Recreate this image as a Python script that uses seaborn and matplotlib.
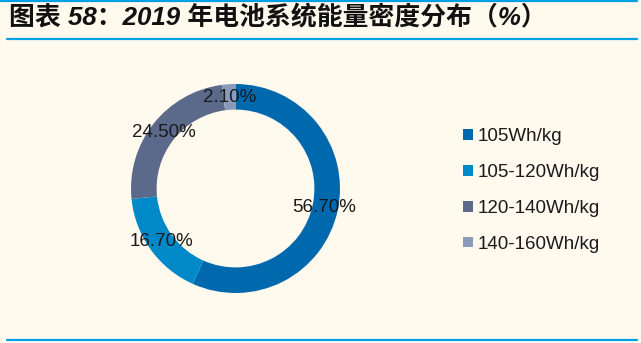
import matplotlib
matplotlib.use("Agg")
import matplotlib.pyplot as plt
from matplotlib.patches import Patch
from matplotlib.lines import Line2D
import seaborn as sns

categories = ["105Wh/kg", "105-120Wh/kg", "120-140Wh/kg", "140-160Wh/kg"]
values = [56.7, 16.7, 24.5, 2.1]
value_labels = ["56.70%", "16.70%", "24.50%", "2.10%"]
title = "图表 58：2019 年电池系统能量密度分布（%）"

BG = "#FFF9EE"
colors = sns.color_palette(["#0068AD", "#0089C8", "#5B6A8A", "#8A9AB8"])

sns.set_theme(style="white")
plt.rcParams["font.family"] = ["Liberation Sans", "DejaVu Sans"]

W, H = 641, 343
fig = plt.figure(figsize=(W / 100, H / 100), dpi=100)
fig.patch.set_facecolor(BG)

# donut axes: center (235.5, 188.5) px, radius 104.5 px
cx, cy, r = 235.5, 188.5, 104.5
ax = fig.add_axes([(cx - r) / W, (H - cy - r) / H, 2 * r / W, 2 * r / H])
ax.set_facecolor(BG)
wedges, texts = ax.pie(
    values, colors=colors, startangle=90, counterclock=False,
    labels=value_labels, labeldistance=0.87,
    wedgeprops=dict(width=0.245, edgecolor="none"),
    textprops=dict(fontsize=13.5, color="#1a1a1a", ha="center", va="center"),
)
for t in texts:
    t.set_ha("center")
    t.set_va("center")
ax.set_xlim(-1, 1)
ax.set_ylim(-1, 1)
ax.set_aspect("equal")
ax.axis("off")

handles = [Patch(facecolor=c, edgecolor="none") for c in colors]
fig.legend(handles, categories, loc="upper left",
           bbox_to_anchor=(454 / W, 1 - 119 / H), frameon=False,
           fontsize=13.5, handlelength=0.5, handleheight=0.5,
           handletextpad=0.25, labelspacing=1.0, borderpad=0,
           labelcolor="#1a1a1a")

# title and rules
fig.text(9 / W, 1 - 18 / H, title, fontsize=18.6, fontweight="bold",
         fontstyle="italic", color="#111111", ha="left", va="center",
         family=["Liberation Sans", "Noto Sans CJK SC"])
line_c = "#00A0E9"
for y, x0 in [(1, 0), (38.5, 7), (340, 7)]:
    fig.add_artist(Line2D([x0 / W, 637 / W], [1 - y / H, 1 - y / H],
                          color=line_c, lw=1.6, transform=fig.transFigure))

fig.savefig("out.png", dpi=100, facecolor=BG)
